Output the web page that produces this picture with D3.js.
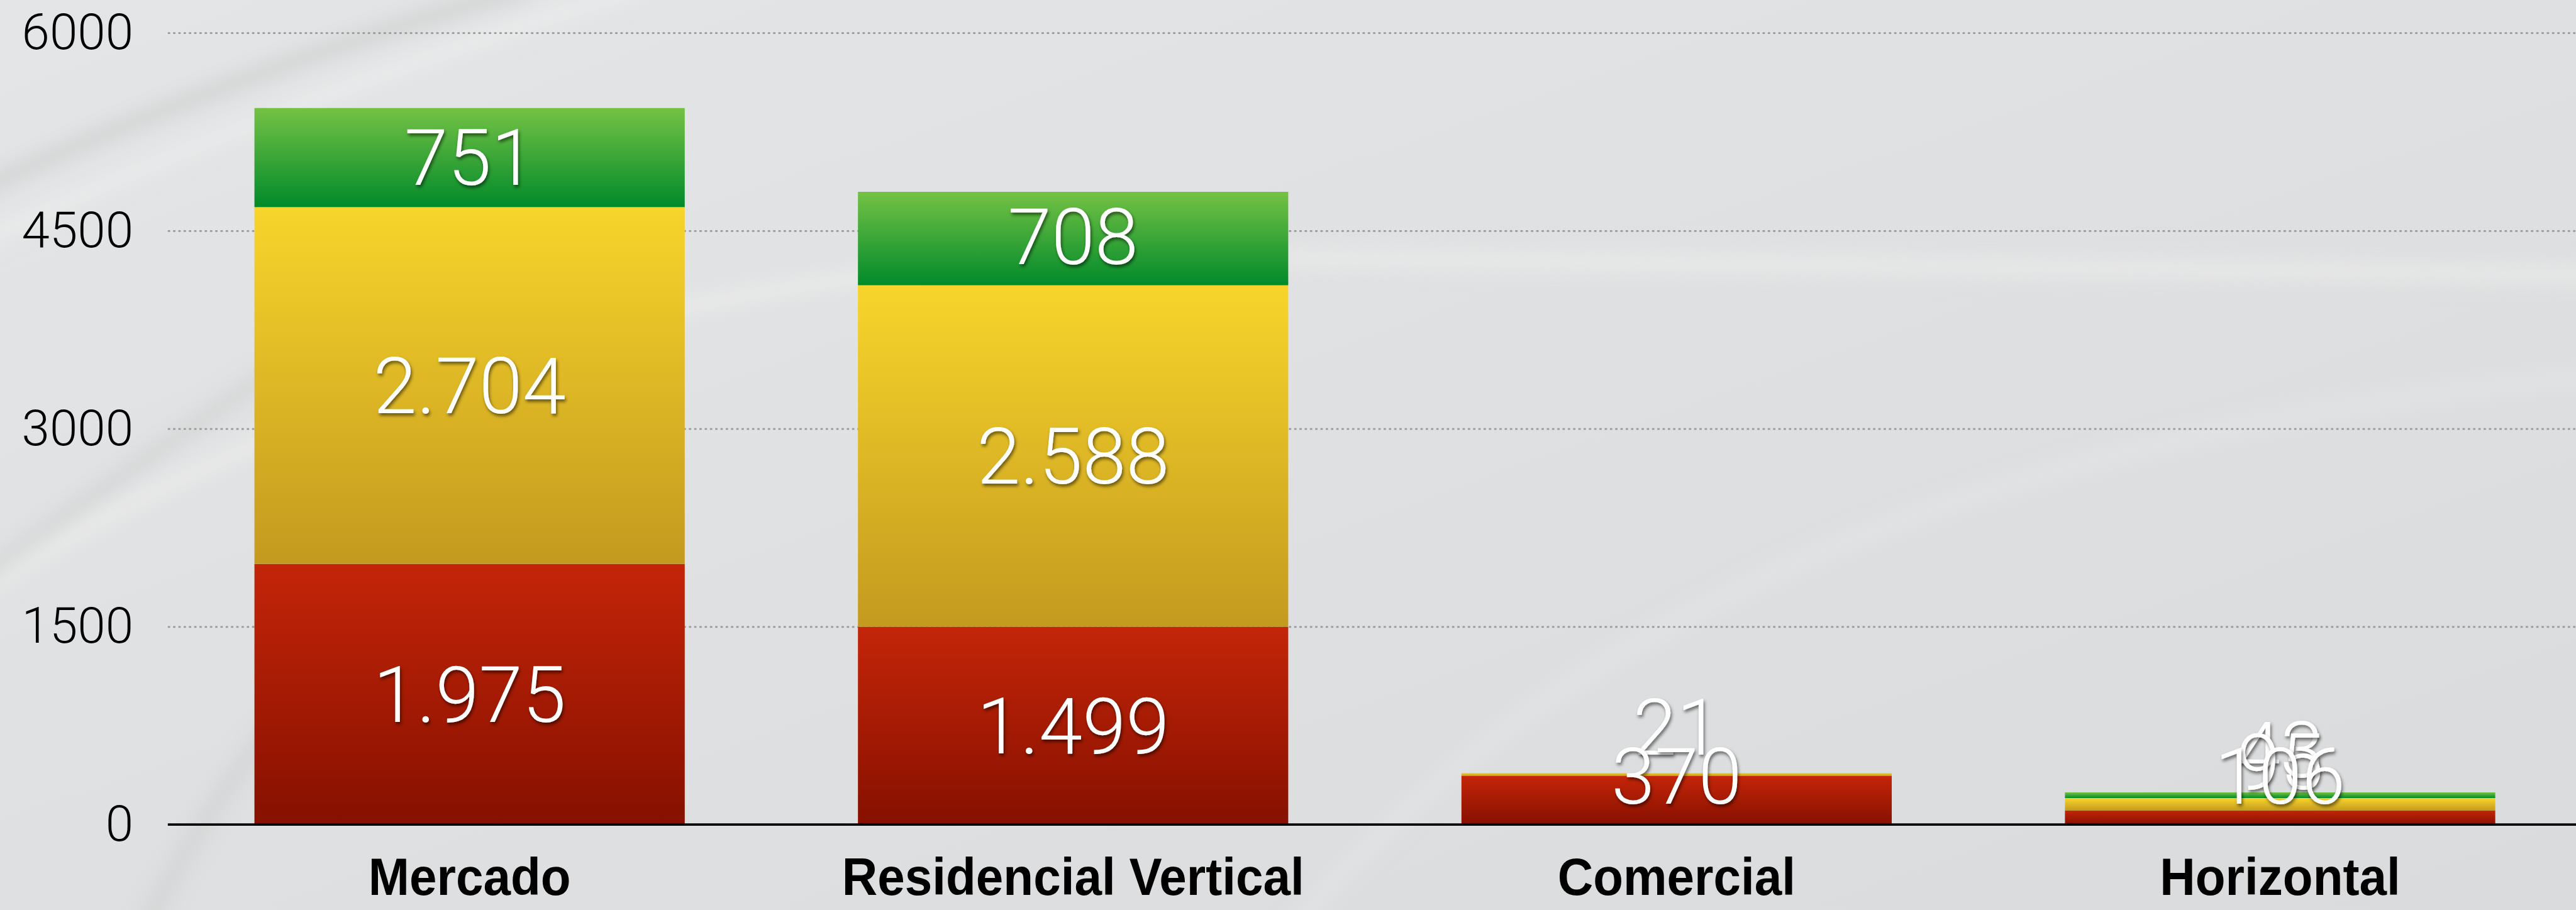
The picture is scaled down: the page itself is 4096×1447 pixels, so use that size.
<!DOCTYPE html>
<head>
  <meta charset="utf-8">
  <title>Mercado por segmento</title>
  <script type="text/javascript" src="https://cdn.jsdelivr.net/npm/d3@7/dist/d3.min.js"></script>
  <style>
    body { margin: 0; overflow: hidden; background: #e0e1e2; }
  </style>
</head>
<body>
<script type="text/javascript">
// data
const categories = ['Mercado', 'Residencial Vertical', 'Comercial', 'Horizontal']
const vermelho = [1975, 1499, 370, 106]
const amarelo = [2704, 2588, 21, 95]
const verde = [751, 708, 0, 43]
const yTicks = [0, 1500, 3000, 4500, 6000]

const seriesKeys = ['vermelho', 'amarelo', 'verde']
const table = categories.map((c, i) => ({ cat: c, vermelho: vermelho[i], amarelo: amarelo[i], verde: verde[i] }))

// drawn in reference pixels, viewBox shrinks it to the window
const W = 4405, H = 1556
const svg = d3.select('body').append('svg')
  .attr('width', 4096).attr('height', 1447)
  .attr('viewBox', `0 0 ${W} ${H}`)

const defs = svg.append('defs')
const grads = {
  vermelho: ['#c42508', '#861000'],
  amarelo: ['#f7d52b', '#c49a1f'],
  verde: ['#74c245', '#018a2a']
}
Object.entries(grads).forEach(([k, c]) => {
  const g = defs.append('linearGradient').attr('id', 'g-' + k)
    .attr('x1', 0).attr('y1', 0).attr('x2', 0).attr('y2', 1)
  g.append('stop').attr('offset', '0%').attr('stop-color', c[0])
  g.append('stop').attr('offset', '100%').attr('stop-color', c[1])
})
const bg = defs.append('linearGradient').attr('id', 'bg')
  .attr('x1', 0).attr('y1', 0).attr('x2', 1).attr('y2', 1)
bg.append('stop').attr('offset', '0%').attr('stop-color', '#e4e5e6')
bg.append('stop').attr('offset', '100%').attr('stop-color', '#dadbdc')
defs.append('filter').attr('id', 'blur').attr('x', '-10%').attr('y', '-50%').attr('width', '120%').attr('height', '200%')
  .append('feGaussianBlur').attr('stdDeviation', 16)
defs.append('filter').attr('id', 'shadow').attr('x', '-20%').attr('y', '-20%').attr('width', '140%').attr('height', '140%')
  .append('feDropShadow').attr('dx', 2).attr('dy', 4).attr('stdDeviation', 3)
  .attr('flood-color', '#000').attr('flood-opacity', 0.55)

// backdrop with soft swooshes
svg.append('rect').attr('width', W).attr('height', H).attr('fill', 'url(#bg)')
const swoosh = svg.append('g').attr('filter', 'url(#blur)').attr('fill', 'none')
swoosh.append('path').attr('d', 'M-50,1020 Q900,420 2100,440 T4500,470')
  .attr('stroke', '#eeefef').attr('stroke-width', 34).attr('opacity', 0.55)
swoosh.append('path').attr('d', 'M-50,330 Q400,120 900,-20')
  .attr('stroke', '#c9cacb').attr('stroke-width', 22).attr('opacity', 0.8)
swoosh.append('path').attr('d', 'M-50,420 Q500,160 1100,-20')
  .attr('stroke', '#eeefef').attr('stroke-width', 26).attr('opacity', 0.7)
swoosh.append('path').attr('d', 'M2200,1600 Q2900,760 4500,640')
  .attr('stroke', '#e9eaea').attr('stroke-width', 28).attr('opacity', 0.45)
swoosh.append('path').attr('d', 'M-50,1000 Q250,780 460,640')
  .attr('stroke', '#c8c9ca').attr('stroke-width', 22).attr('opacity', 0.6)
swoosh.append('path').attr('d', 'M240,1600 Q340,1400 460,1250')
  .attr('stroke', '#c8c9ca').attr('stroke-width', 24).attr('opacity', 0.6)

const y = d3.scaleLinear().domain([0, 6000]).range([1410, 56])
const x = d3.scaleBand().domain(categories).range([287, 4415])
  .paddingInner(0.287).paddingOuter(0.1435)

// y axis + dashed grid
const gridLeft = 287
const yAxis = svg.append('g').attr('transform', `translate(${gridLeft},0)`)
  .call(d3.axisLeft(y).tickValues(yTicks).tickFormat(d3.format('d'))
    .tickSize(-(W - gridLeft)).tickPadding(59))
yAxis.select('.domain').remove()
yAxis.selectAll('.tick line')
  .attr('stroke', '#9a9a9a').attr('stroke-width', 3).attr('stroke-dasharray', '4 5')
yAxis.selectAll('.tick text')
  .attr('font-family', 'Roboto, "Liberation Sans", sans-serif')
  .attr('font-size', 86).attr('font-weight', 300).attr('fill', '#000')

// stacked bars
const stacked = d3.stack().keys(seriesKeys)(table)
const layers = svg.append('g').selectAll('g').data(stacked).join('g')
  .attr('fill', d => `url(#g-${d.key})`)
layers.selectAll('rect').data(d => d).join('rect')
  .attr('x', d => x(d.data.cat))
  .attr('width', x.bandwidth())
  .attr('y', d => y(d[1]))
  .attr('height', d => y(d[0]) - y(d[1]))

// baseline
svg.append('line')
  .attr('x1', gridLeft).attr('x2', W)
  .attr('y1', y(0)).attr('y2', y(0))
  .attr('stroke', '#000').attr('stroke-width', 4)

// value labels, kept clear of the segment bottom when the segment is thin
const fmt = d3.formatLocale({ decimal: ',', thousands: '.', grouping: [3], currency: ['R$', ''] }).format(',d')
const halfLabel = 83
const labelData = []
stacked.slice().reverse().forEach(s => s.forEach(d => {
  const v = d[1] - d[0]
  if (v <= 0) return
  const bottom = y(d[0]), mid = (y(d[0]) + y(d[1])) / 2
  labelData.push({ cat: d.data.cat, v: v, cy: Math.min(mid, bottom - halfLabel) })
}))
svg.append('g').selectAll('text').data(labelData).join('text')
  .attr('x', d => x(d.cat) + x.bandwidth() / 2)
  .attr('y', d => d.cy + 47)
  .attr('text-anchor', 'middle')
  .attr('font-family', 'Roboto, "Liberation Sans", sans-serif')
  .attr('font-weight', 300)
  .attr('font-size', 134)
  .attr('fill', '#fff')
  .attr('filter', 'url(#shadow)')
  .text(d => fmt(d.v))

// category axis
const xAxis = svg.append('g').attr('transform', `translate(0,${y(0)})`)
  .call(d3.axisBottom(x).tickSize(0).tickPadding(56))
xAxis.select('.domain').remove()
xAxis.selectAll('.tick text')
  .attr('font-family', '"Liberation Sans", Arial, sans-serif')
  .attr('font-weight', 'bold')
  .attr('font-size', 90)
  .attr('fill', '#000')
  .attr('transform', 'scale(0.935,1)')
</script>
</body>
